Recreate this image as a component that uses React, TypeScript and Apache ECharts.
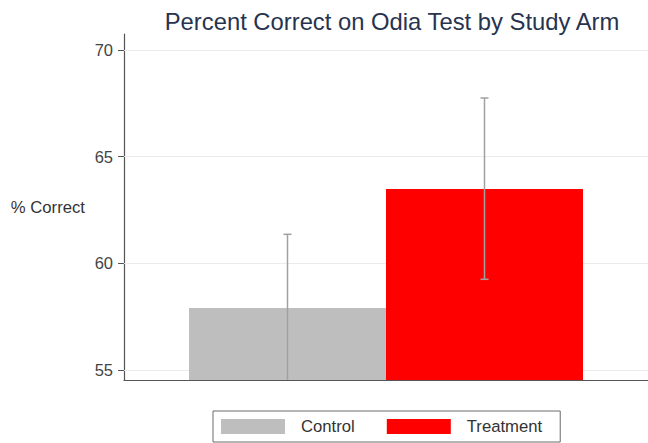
import React, { useEffect, useRef } from "react";
import * as echarts from "echarts";

const arms = ["Control", "Treatment"];
const means = [57.9, 63.48];
const ciLow = [54.44, 59.25];
const ciHigh = [61.36, 67.75];
const armColors = ["#bebebe", "#ff0000"];
const yTicks = [55, 60, 65, 70];
const yMin = 54.53;
const yMax = 70.75;

export default function App() {
  const ref = useRef<HTMLDivElement>(null);
  useEffect(() => {
    const chart = echarts.init(ref.current!, null, { renderer: "svg" });
    const BAR_W = 197;
    const font = "'Liberation Sans', Arial, sans-serif";
    const series: any[] = arms.map((name, i) => ({
      name,
      type: "bar",
      data: [means[i]],
      barWidth: BAR_W,
      barGap: "0%",
      itemStyle: { color: armColors[i] },
      clip: true,
      z: 3,
    }));
    series[0].markLine = {
      silent: true,
      symbol: ["none", "none"],
      label: { show: false },
      z: 1,
      lineStyle: { color: "#ebebeb", type: "solid", width: 1 },
      data: yTicks.map((v) => ({ yAxis: v })),
    };
    series.push({
      type: "custom",
      name: "CI",
      clip: true,
      z: 5,
      data: arms.map((_, i) => [0, ciLow[i], ciHigh[i], i]),
      renderItem: (params: any, api: any) => {
        const k = api.value(3);
        const lo = api.coord([0, api.value(1)]);
        const hi = api.coord([0, api.value(2)]);
        const x = lo[0] + (k - (arms.length - 1) / 2) * BAR_W;
        const cap = 4;
        const st = { stroke: "#a0a0a0", lineWidth: 1.5 };
        return {
          type: "group",
          children: [
            { type: "line", shape: { x1: x, y1: lo[1], x2: x, y2: hi[1] }, style: st },
            { type: "line", shape: { x1: x - cap, y1: lo[1], x2: x + cap, y2: lo[1] }, style: st },
            { type: "line", shape: { x1: x - cap, y1: hi[1], x2: x + cap, y2: hi[1] }, style: st },
          ],
        };
      },
    });
    chart.setOption({
      animation: false,
      backgroundColor: "#ffffff",
      title: {
        text: "Percent Correct on Odia Test by Study Arm",
        left: 387,
        textAlign: "center",
        top: 4,
        textStyle: { fontFamily: font, fontSize: 23.8, fontWeight: "normal", color: "#27334f" },
      },
      legend: {
        data: arms,
        left: 213,
        bottom: 1,
        icon: "rect",
        itemWidth: 64,
        itemHeight: 15,
        itemGap: 32,
        padding: [7, 18, 7, 8],
        borderColor: "#6a6a6a",
        borderWidth: 1,
        textStyle: { fontFamily: font, fontSize: 16.7, color: "#333333", padding: [0, 0, 0, 11] },
      },
      grid: { left: 124, right: 0, top: 34, bottom: 63, containLabel: false },
      xAxis: {
        type: "category",
        data: [""],
        axisLine: { show: true, lineStyle: { color: "#555555", width: 1.2 } },
        axisTick: { show: false },
        axisLabel: { show: false },
        splitLine: { show: false },
      },
      yAxis: {
        type: "value",
        min: yMin,
        max: yMax,
        splitNumber: 3,
        name: "% Correct",
        nameLocation: "middle",
        nameRotate: 0,
        nameGap: 39,
        nameTextStyle: { fontFamily: font, fontSize: 16.7, color: "#333333" },
        axisLine: { show: true, lineStyle: { color: "#555555", width: 1.2 } },
        axisTick: { show: true, length: 6, customValues: yTicks, lineStyle: { color: "#555555" } },
        axisLabel: {
          customValues: yTicks,
          margin: 11,
          fontFamily: font,
          fontSize: 16.5,
          color: "#444444",
          showMinLabel: true,
          showMaxLabel: true,
        },
        splitLine: { show: false },
      },
      series,
    });
    return () => chart.dispose();
  }, []);
  return (
    <div
      ref={ref}
      style={{ position: "fixed", left: 0, top: 0, width: 648, height: 443, background: "#fff" }}
    />
  );
}
